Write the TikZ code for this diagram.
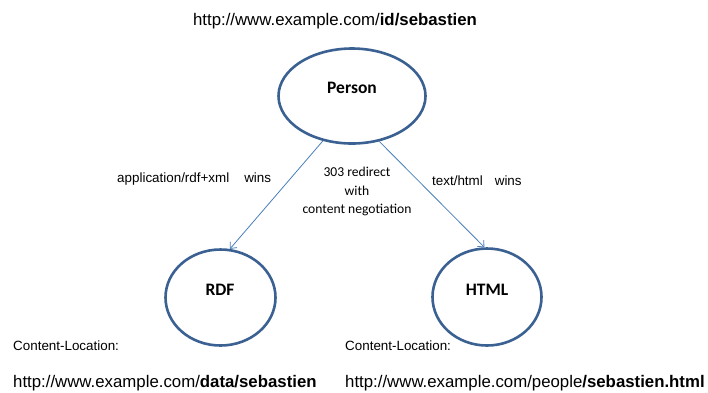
\documentclass[tikz,border=0pt]{standalone}
\usepackage{fontspec}
\setmainfont{Liberation Sans}
\newfontfamily\calfont{Carlito}
\usetikzlibrary{shapes.geometric,arrows.meta}
\definecolor{ringblue}{HTML}{3B6192}
\definecolor{linkblue}{HTML}{4A7EBB}
\tikzset{
  ring/.style={draw=ringblue, line width=2.6pt, fill=white, ellipse, inner sep=0pt},
  link/.style={draw=linkblue, line width=0.8pt, -{Straight Barb[length=5pt,width=9pt,line width=0.8pt]}},
  urltext/.style={font=\fontsize{16.8}{19}\selectfont, inner sep=0pt},
  smalltext/.style={font=\fontsize{13.4}{16}\selectfont, inner sep=0pt},
  caltext/.style={font=\calfont\fontsize{13.6}{18.3}\selectfont, inner sep=0pt, align=center},
  boldcal/.style={font=\calfont\bfseries\fontsize{17.5}{20}\selectfont, inner sep=0pt},
}
\begin{document}
\begin{tikzpicture}[x=1pt,y=-1pt]
\useasboundingbox (0,0) rectangle (708,392);
% ellipses
\node[ring, minimum width=147pt, minimum height=95pt] (person) at (352,96) {};
\node[ring, minimum width=110pt, minimum height=96pt] (rdf) at (220.5,297.5) {};
\node[ring, minimum width=109pt, minimum height=97pt] (html) at (487,297) {};
% labels inside
\node[boldcal, anchor=base] (personlbl) at (352,93.5) {Person};
\node[boldcal, anchor=base] (rdflbl) at (220,295) {RDF};
\node[boldcal, anchor=base] (htmllbl) at (487,295) {HTML};
% connectors
\draw[link] (person.237) -- (rdf.79);
\draw[link] (person.301) -- (html.93);
% edge labels
\node[smalltext, anchor=base west] (rdfwins) at (117,182) {application/rdf+xml\hspace{15pt}wins};
\node[smalltext, anchor=base west] (htmlwins) at (432,185) {text/html\hspace{12pt}wins};
\node[caltext, anchor=base] (redirect) at (357,213.3) {303 redirect\\with\\content negotiation};
% URLs
\node[urltext, anchor=base] (idurl) at (335,25) {http://www.example.com/\textbf{id/sebastien}};
\node[smalltext, anchor=base west] (cl1) at (13,350) {Content-Location:};
\node[smalltext, anchor=base west] (cl2) at (345,350) {Content-Location:};
\node[urltext, anchor=base west] (dataurl) at (13,387) {http://www.example.com/\textbf{data/sebastien}};
\node[urltext, anchor=base west] (htmlurl) at (345,387) {http://www.example.com/people\textbf{/sebastien.html}};
\end{tikzpicture}
\end{document}
